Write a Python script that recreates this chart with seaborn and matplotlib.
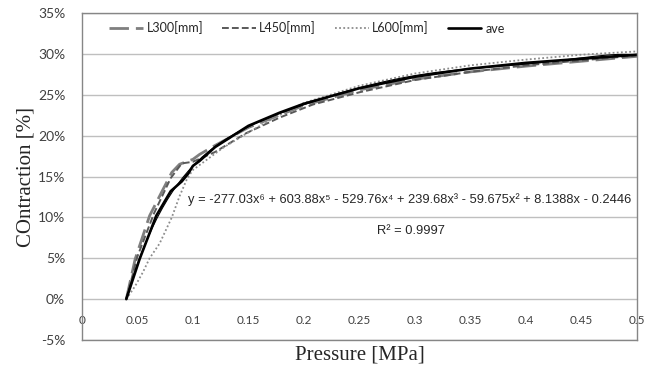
import numpy as np
import matplotlib
matplotlib.use("Agg")
import matplotlib.pyplot as plt
import seaborn as sns
from matplotlib.ticker import PercentFormatter, MultipleLocator

# ---- data (pressure in MPa, contraction in %) ----
L300_X = [0.040, 0.048, 0.061, 0.073, 0.081, 0.088, 0.100, 0.106, 0.120, 0.150,
          0.200, 0.250, 0.300, 0.350, 0.400, 0.450, 0.500]
L300_Y = [0.0, 4.9, 10.2, 13.4, 15.5, 16.5, 17.1, 17.7, 18.8, 21.0,
          23.7, 25.6, 26.9, 27.8, 28.5, 29.1, 29.7]

L450_X = [0.040, 0.050, 0.065, 0.080, 0.090, 0.100, 0.120, 0.148, 0.178, 0.208,
          0.250, 0.300, 0.350, 0.400, 0.450, 0.500]
L450_Y = [0.0, 5.2, 10.5, 14.8, 16.6, 16.8, 18.0, 20.3, 22.2, 23.8,
          25.3, 26.8, 27.8, 28.6, 29.2, 29.8]

L600_X = [0.040, 0.048, 0.055, 0.061, 0.070, 0.081, 0.088, 0.095, 0.100, 0.106,
          0.127, 0.150, 0.175, 0.200, 0.250, 0.300, 0.350, 0.400, 0.450, 0.500]
L600_Y = [0.0, 1.6, 3.3, 5.0, 6.8, 10.0, 12.6, 14.8, 15.8, 16.4,
          18.5, 20.4, 22.3, 24.0, 26.1, 27.6, 28.6, 29.3, 29.9, 30.3]

AVE_X = [0.040, 0.052, 0.067, 0.080, 0.090, 0.096, 0.100, 0.106, 0.120, 0.150,
         0.178, 0.200, 0.250, 0.300, 0.350, 0.400, 0.450, 0.500]
AVE_Y = [0.0, 4.9, 10.2, 13.2, 14.4, 15.4, 16.3, 16.9, 18.6, 21.2,
         22.8, 23.9, 25.8, 27.2, 28.2, 28.9, 29.4, 29.9]

EQUATION = "y = -277.03x\u2076 + 603.88x\u2075 - 529.76x\u2074 + 239.68x\u00b3 - 59.675x\u00b2 + 8.1388x - 0.2446"
R2_TEXT = "R\u00b2 = 0.9997"

X_TICKS = [0, 0.05, 0.1, 0.15, 0.2, 0.25, 0.3, 0.35, 0.4, 0.45, 0.5]
X_TICK_LABELS = ["0", "0.05", "0.1", "0.15", "0.2", "0.25", "0.3", "0.35", "0.4", "0.45", "0.5"]

# ---- style ----
sns.set_style("white")
plt.rcParams['font.family'] = ['Lato', 'DejaVu Sans']
plt.rcParams['axes.unicode_minus'] = False
GRID = "#bfbfbf"
FRAME = "#868686"

fig, ax = plt.subplots(figsize=(6.55, 3.66), dpi=100)
fig.subplots_adjust(left=0.125, right=0.9725, top=0.9645, bottom=0.071)

sns.lineplot(x=L300_X, y=L300_Y, ax=ax, color="#7f7f7f", lw=2.0,
             linestyle=(0, (7, 2.5)), label="L300[mm]")
sns.lineplot(x=L450_X, y=L450_Y, ax=ax, color="#595959", lw=1.4,
             linestyle=(0, (3.5, 1.6)), label="L450[mm]")
sns.lineplot(x=L600_X, y=L600_Y, ax=ax, color="#8c8c8c", lw=1.3,
             linestyle=(0, (1, 1.3)), label="L600[mm]")
sns.lineplot(x=AVE_X, y=AVE_Y, ax=ax, color="black", lw=1.9, label="ave")

# 6th order polynomial trendline on the average curve
sns.regplot(x=np.array(AVE_X), y=np.array(AVE_Y), order=6, ci=None, scatter=False,
            truncate=True, ax=ax, line_kws={"color": "black", "lw": 0.8})

ax.set_xlim(0, 0.5)
ax.set_ylim(-5, 35)
ax.yaxis.set_major_locator(MultipleLocator(5))
ax.yaxis.set_major_formatter(PercentFormatter(decimals=0))
ax.set_xticks(X_TICKS)
ax.set_xticklabels(X_TICK_LABELS)

ax.grid(axis="y", color=GRID, lw=1.0)
ax.set_axisbelow(True)
for s in ax.spines.values():
    s.set_color(FRAME)
    s.set_linewidth(1.0)

ax.tick_params(axis="x", length=0, pad=-18, labelsize=8.5, colors="#404040")
ax.tick_params(axis="y", length=4, pad=8, labelsize=10, colors="#404040")

ax.set_xlabel("Pressure [MPa]", family=["Liberation Serif"], fontsize=15, labelpad=4)
ax.set_ylabel("COntraction [%]", family=["Liberation Serif"], fontsize=15, labelpad=2)

ax.text(0.59, 0.428, EQUATION, transform=ax.transAxes, ha="center", va="center",
        family=["Liberation Sans", "DejaVu Sans"], fontsize=9.3, color="#262626")
ax.text(0.593, 0.333, R2_TEXT, transform=ax.transAxes, ha="center", va="center",
        family=["Liberation Sans", "DejaVu Sans"], fontsize=9.3, color="#262626")

leg = ax.legend(loc="center", bbox_to_anchor=(0.405, 0.954), ncol=4, frameon=False,
                fontsize=9, handlelength=2.7, columnspacing=1.5, handletextpad=0.3)

fig.savefig("out.png", dpi=100)
